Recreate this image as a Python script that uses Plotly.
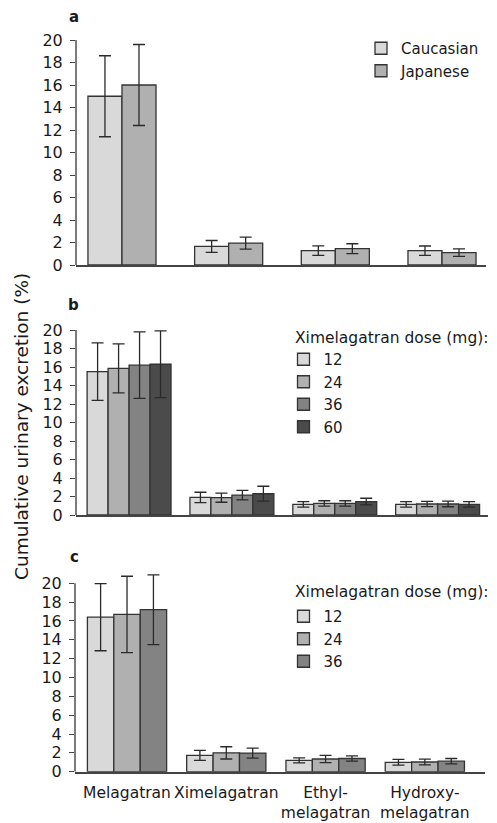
import plotly.graph_objects as go

W, H = 497, 823

categories = ["Melagatran", "Ximelagatran", "Ethyl-<br>melagatran", "Hydroxy-<br>melagatran"]

# Panel a
a_names = ["Caucasian", "Japanese"]
a_vals = [[15.0, 1.65, 1.28, 1.27], [16.0, 1.95, 1.45, 1.1]]
a_errs = [[3.6, 0.53, 0.42, 0.42], [3.6, 0.53, 0.44, 0.34]]

# Panel b
b_names = ["12", "24", "36", "60"]
b_vals = [[15.5, 1.9, 1.15, 1.15],
          [15.85, 1.87, 1.25, 1.19],
          [16.2, 2.15, 1.25, 1.19],
          [16.3, 2.3, 1.45, 1.15]]
b_errs = [[3.1, 0.56, 0.3, 0.29],
          [2.65, 0.49, 0.29, 0.29],
          [3.6, 0.52, 0.29, 0.3],
          [3.6, 0.81, 0.36, 0.3]]

# Panel c
c_names = ["12", "24", "36"]
c_vals = [[16.4, 1.73, 1.2, 1.0],
          [16.7, 2.0, 1.35, 1.03],
          [17.2, 1.98, 1.4, 1.12]]
c_errs = [[3.56, 0.53, 0.27, 0.3],
          [4.05, 0.65, 0.39, 0.3],
          [3.7, 0.53, 0.28, 0.28]]

y_ticks = list(range(0, 21, 2))
legend_title = "Ximelagatran dose (mg):"
y_title = "Cumulative urinary excretion (%)"

colors4 = ["#d9d9d9", "#b0b0b0", "#838383", "#4b4b4b"]
FONT = "DejaVu Sans"
EDGE = "#333333"
AX = "#444444"
TXT = "#1a1a1a"

fig = go.Figure()


def add_panel(names, vals, errs, barw, xa, ya, legend, cols):
    n = len(names)
    for i, (nm, v, e) in enumerate(zip(names, vals, errs)):
        fig.add_trace(go.Bar(
            x=categories, y=v, name=nm,
            width=barw, offset=-n * barw / 2 + i * barw,
            marker=dict(color=cols[i], line=dict(color=EDGE, width=1.3)),
            error_y=dict(type="data", array=e, color="#2a2a2a", thickness=1.3, width=6),
            xaxis=xa, yaxis=ya, legend=legend, showlegend=True,
        ))


add_panel(a_names, a_vals, a_errs, 0.319, "x", "y", "legend", [colors4[0], colors4[1]])
add_panel(b_names, b_vals, b_errs, 0.204, "x2", "y2", "legend2", colors4)
add_panel(c_names, c_vals, c_errs, 0.266, "x3", "y3", "legend3", colors4)


def py(p):
    return (H - p) / H


def px(p):
    return p / W


YMAX = 21.3
panels = [
    # (x_left, x_right, zero_px, px_per_unit, xrange)
    (76, 486, 265.0, 11.25, [-0.431, 3.4125]),
    (76, 488, 515.0, 9.25, [-0.516, 3.49]),
    (75, 485, 771.7, 9.42, [-0.524, 3.606]),
]

for k, (xl, xr, z, ppu, xr_) in enumerate(panels):
    sfx = "" if k == 0 else str(k + 1)
    fig.update_layout(**{
        "xaxis" + sfx: dict(
            domain=[px(xl), px(xr)], anchor="y" + sfx, type="category",
            range=xr_, showline=True, linecolor=AX, linewidth=1.6,
            ticks="", showgrid=False, zeroline=False,
            showticklabels=(k == 2), ticklabelstandoff=6,
            tickfont=dict(family=FONT, size=15.5, color=TXT),
            automargin=False,
        ),
        "yaxis" + sfx: dict(
            domain=[py(z), py(z - YMAX * ppu)], anchor="x" + sfx,
            range=[0, YMAX], tickvals=y_ticks, ticks="outside", ticklen=5,
            tickwidth=1.3, tickcolor=AX, showline=False, showgrid=False,
            zeroline=False, ticklabelstandoff=4,
            tickfont=dict(family=FONT, size=16, color=TXT),
            automargin=False,
        ),
    })
    fig.add_shape(type="line", xref=("x" + sfx + " domain"), yref=("y" + sfx),
                  x0=0, x1=0, y0=0, y1=20, line=dict(color=AX, width=1.4))

leg_common = dict(xanchor="left", yanchor="top", bgcolor="rgba(0,0,0,0)",
                  font=dict(family=FONT, size=15, color=TXT),
                  traceorder="normal", itemclick=False)
fig.update_layout(
    legend=dict(x=px(361), y=py(32), **leg_common),
    legend2=dict(x=px(283.5), y=py(343), **leg_common),
    legend3=dict(x=px(283.5), y=py(600), **leg_common),
)

annos = [
    dict(text="<b>a</b>", x=px(74), y=py(17)),
    dict(text="<b>b</b>", x=px(73), y=py(305)),
    dict(text="<b>c</b>", x=px(74), y=py(557)),
]
for a in annos:
    fig.add_annotation(xref="paper", yref="paper", showarrow=False,
                       xanchor="center", yanchor="middle",
                       font=dict(family=FONT, size=15, color=TXT), **a)

for yy in (338, 592):
    fig.add_annotation(text=legend_title, xref="paper", yref="paper", x=px(293), y=py(yy),
                       xanchor="left", yanchor="middle", showarrow=False,
                       font=dict(family=FONT, size=15.5, color=TXT))

fig.add_annotation(text=y_title, xref="paper", yref="paper", x=px(21), y=py(427),
                   textangle=-90, showarrow=False, xanchor="center", yanchor="middle",
                   font=dict(family=FONT, size=18.5, color=TXT))

fig.update_layout(
    width=W, height=H, margin=dict(l=0, r=0, t=0, b=0),
    paper_bgcolor="white", plot_bgcolor="white",
    barmode="overlay",
    font=dict(family=FONT),
)

fig.write_html("out.html", config={"displayModeBar": False},
               post_script="document.body.style.margin='0px';")
